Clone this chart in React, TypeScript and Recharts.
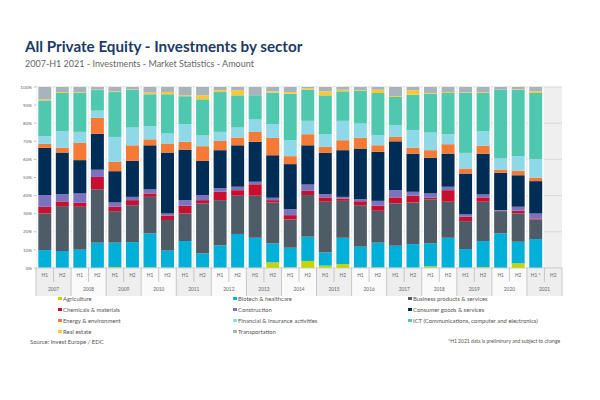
import React from "react";
import { BarChart, Bar, XAxis, YAxis, CartesianGrid } from "recharts";

// Half-year periods, H1 2007 .. H2 2021 (H2 2021 has no data yet)
const years = [
  "2007", "2008", "2009", "2010", "2011", "2012", "2013", "2014",
  "2015", "2016", "2017", "2018", "2019", "2020", "2021",
];
const halves = ["H1", "H2"];

// Share of investment amount by sector, %
const agriculture = [0.2, 0.1, 0.1, 0.1, 0.5, 0.2, 0.3, 0.2, 0.2, 0.3, 0.2, 0.2, 0.2, 3.1, 0.3, 3.9, 1.3, 2.2, 0.2, 0.3, 0.2, 0.2, 0.9, 0.2, 0.2, 0.5, 0.1, 2.6, 0.1, null];
const biotech = [9.7, 9.3, 10.0, 13.9, 13.5, 14.1, 18.8, 9.4, 14.7, 7.8, 12.3, 18.6, 16.5, 10.5, 10.9, 13.4, 7.3, 14.5, 11.6, 13.7, 12.1, 13.0, 12.7, 16.5, 10.3, 14.4, 19.0, 11.9, 15.9, null];
const business = [20.2, 24.8, 23.7, 29.6, 17.4, 20.4, 20.2, 16.9, 15.2, 27.6, 25.0, 21.1, 23.2, 22.6, 15.6, 23.0, 28.0, 20.4, 22.9, 17.6, 23.4, 23.0, 24.3, 19.9, 15.4, 21.7, 12.3, 15.6, 10.8, null];
const chemicals = [3.7, 2.6, 2.2, 6.8, 2.4, 2.8, 1.9, 2.5, 4.3, 1.8, 4.6, 3.1, 6.4, 1.3, 2.4, 2.3, 2.4, 1.3, 2.2, 2.8, 3.3, 3.7, 0.9, 6.4, 2.4, 2.4, 0.2, 1.5, 0.6, null];
const construction = [6.5, 4.0, 5.2, 4.0, 2.4, 1.8, 2.2, 1.1, 3.1, 2.8, 2.0, 1.9, 1.3, 1.3, 3.3, 3.5, 1.8, 0.9, 1.2, 2.7, 4.0, 2.2, 2.4, 1.9, 1.3, 1.6, 0.4, 2.2, 2.7, null];
const consumer = [26.1, 23.0, 18.4, 19.9, 17.3, 19.9, 24.4, 33.7, 27.9, 18.9, 21.0, 22.9, 22.1, 23.5, 24.9, 21.7, 22.8, 25.8, 27.9, 27.1, 27.0, 21.1, 19.8, 18.3, 22.6, 22.6, 20.6, 17.5, 17.9, null];
const energy = [2.2, 2.7, 9.5, 8.8, 5.1, 8.6, 3.3, 5.0, 4.3, 8.1, 5.1, 4.3, 5.5, 9.6, 4.4, 6.1, 3.3, 5.5, 5.9, 3.6, 2.4, 3.2, 4.1, 5.2, 2.8, 4.3, 1.8, 2.4, 2.0, null];
const financial = [4.2, 9.2, 6.1, 4.0, 13.8, 9.8, 7.2, 5.5, 9.7, 5.9, 5.0, 5.5, 6.8, 7.5, 8.8, 7.4, 7.0, 10.7, 7.9, 5.5, 6.5, 9.7, 9.7, 5.5, 8.6, 8.2, 6.1, 8.1, 9.9, null];
const ict = [19.8, 21.0, 21.5, 11.4, 24.8, 20.9, 17.7, 21.7, 15.5, 20.0, 22.0, 17.8, 13.4, 17.5, 25.7, 17.2, 21.5, 16.3, 18.0, 23.4, 15.6, 19.7, 21.5, 22.8, 33.3, 21.0, 38.0, 36.7, 36.8, null];
const realEstate = [0.6, 0.5, 0.4, 0.2, 0.3, 0.2, 0.9, 1.2, 0.5, 2.2, 1.0, 2.8, 0.0, 0.7, 0.9, 0.8, 2.2, 0.9, 0.4, 1.8, 0.5, 2.4, 0.4, 0.5, 0.2, 0.4, 0.0, 0.2, 0.9, null];
const transportation = [6.8, 2.8, 2.9, 1.5, 2.5, 1.3, 3.1, 2.8, 4.6, 4.6, 1.8, 1.8, 4.6, 2.4, 2.8, 0.7, 2.4, 1.5, 1.8, 1.5, 5.0, 1.8, 3.3, 2.8, 2.9, 2.9, 1.5, 1.3, 2.4, null];

const yTicks = [0, 0.1, 0.2, 0.3, 0.4, 0.5, 0.6, 0.7, 0.8, 0.9, 1];

const series = [
  { key: "agriculture", name: "Agriculture", color: "#c4d600", values: agriculture },
  { key: "biotech", name: "Biotech & healthcare", color: "#00b0d9", values: biotech },
  { key: "business", name: "Business products & services", color: "#4d5c67", values: business },
  { key: "chemicals", name: "Chemicals & materials", color: "#c8102e", values: chemicals },
  { key: "construction", name: "Construction", color: "#7b72c0", values: construction },
  { key: "consumer", name: "Consumer goods & services", color: "#002d56", values: consumer },
  { key: "energy", name: "Energy & environment", color: "#f47a36", values: energy },
  { key: "financial", name: "Financial & insurance activities", color: "#8ed8e8", values: financial },
  { key: "ict", name: "ICT (Communications, computer and electronics)", color: "#4ec9b0", values: ict },
  { key: "realEstate", name: "Real estate", color: "#fdc82f", values: realEstate },
  { key: "transportation", name: "Transportation", color: "#a9b3bb", values: transportation },
];

const data = years.flatMap((year, yi) =>
  halves.map((half, hi) => {
    const i = yi * 2 + hi;
    const row: Record<string, any> = {
      period: `${half} ${year}`,
      year,
      half: year === "2021" && half === "H1" ? "H1 *" : half,
    };
    series.forEach((s) => (row[s.key] = s.values[i]));
    return row;
  })
);

const FONT = "Lato, 'Open Sans', sans-serif";
const PLOT_LEFT = 36;
const PLOT_RIGHT = 38;
const BAND = (600 - PLOT_LEFT - PLOT_RIGHT) / data.length;

// two-row axis: half-year cell + year cell spanning both halves
function PeriodTick(props: any) {
  const { x, y, index } = props;
  const row = data[index];
  if (!row) return null;
  const half = BAND / 2;
  const shaded = years.indexOf(row.year) % 2 === 0;
  const bg = shaded ? "#eeeeee" : "#fafafa";
  const isFirst = index % 2 === 0;
  const last = index === data.length - 1;
  return (
    <g>
      <rect x={x - half} y={y} width={BAND} height={14} fill={bg} />
      {isFirst && (
        <rect x={x - half} y={y + 14} width={BAND * 2} height={14} fill={bg} />
      )}
      <line x1={x - half} x2={x + half} y1={y} y2={y} stroke="#c8c8c8" strokeWidth={0.8} />
      <line
        x1={x - half}
        x2={x - half}
        y1={y}
        y2={isFirst ? y + 28 : y + 14}
        stroke="#bdbdbd"
        strokeWidth={0.8}
      />
      {last && (
        <line x1={x + half} x2={x + half} y1={y} y2={y + 28} stroke="#bdbdbd" strokeWidth={0.8} />
      )}
      <text x={x} y={y + 9} textAnchor="middle" fontSize={4.8} fill="#666" fontFamily={FONT}>
        {row.half}
      </text>
      {isFirst && (
        <text x={x + half} y={y + 23} textAnchor="middle" fontSize={4.8} fill="#666" fontFamily={FONT}>
          {row.year}
        </text>
      )}
    </g>
  );
}

// white strip around each stacked column, none for the empty slot
function ColumnBackground(props: any) {
  const { x, y, width, height, payload } = props;
  if (!payload || payload.biotech == null) return <g />;
  return <rect x={x - 1.5} y={y} width={width + 3} height={height} fill="#ffffff" />;
}

export default function App() {
  return (
    <div
      style={{
        position: "absolute",
        left: 0,
        top: 0,
        width: 600,
        height: 400,
        background: "#fff",
        fontFamily: FONT,
      }}
    >
      <div
        style={{
          position: "absolute",
          left: 25,
          top: 39,
          fontSize: 15.2,
          lineHeight: "15px",
          fontWeight: 700,
          color: "#1c3a66",
          whiteSpace: "nowrap",
        }}
      >
        All Private Equity - Investments by sector
      </div>
      <div
        style={{
          position: "absolute",
          left: 25,
          top: 59,
          fontSize: 9,
          lineHeight: "9px",
          color: "#666",
          whiteSpace: "nowrap",
        }}
      >
        2007-H1 2021 - Investments - Market Statistics - Amount
      </div>

      <div style={{ position: "absolute", left: 0, top: 0 }}>
        <BarChart
          width={600}
          height={400}
          data={data}
          stackOffset="expand"
          barCategoryGap="13%"
          margin={{ top: 87, right: PLOT_RIGHT, bottom: 104, left: 0 }}
        >
          <CartesianGrid vertical={false} stroke="#d8d8d8" fill="#efefef" />
          <XAxis
            dataKey="period"
            interval={0}
            height={28}
            tickSize={0}
            tickMargin={0}
            axisLine={false}
            tickLine={false}
            tick={<PeriodTick />}
          />
          <YAxis
            width={PLOT_LEFT}
            domain={[0, 1]}
            ticks={yTicks}
            tickFormatter={(v: number) => `${Math.round(v * 100)}%`}
            tick={{ fontSize: 4.6, fill: "#666", fontFamily: FONT }}
            tickSize={2}
            tickMargin={2}
            tickLine={{ stroke: "#bbb" }}
            axisLine={false}
          />
          {series.map((s, i) => (
            <Bar
              key={s.key}
              dataKey={s.key}
              name={s.name}
              stackId="sector"
              fill={s.color}
              isAnimationActive={false}
              background={i === 0 ? ColumnBackground : undefined}
            />
          ))}
        </BarChart>
      </div>

      <div
        style={{
          position: "absolute",
          left: 58,
          top: 293,
          display: "grid",
          gridTemplateColumns: "175px 175px 175px",
          gridAutoRows: "11px",
          fontSize: 5.9,
          color: "#555",
        }}
      >
        {series.map((s) => (
          <div key={s.key} style={{ display: "flex", alignItems: "center", whiteSpace: "nowrap" }}>
            <span
              style={{
                display: "inline-block",
                width: 3.5,
                height: 3.5,
                background: s.color,
                marginRight: 1.5,
              }}
            />
            {s.name}
          </div>
        ))}
      </div>

      <div style={{ position: "absolute", left: 30, top: 338, fontSize: 5.9, color: "#555" }}>
        Source: Invest Europe / EDC
      </div>
      <div
        style={{
          position: "absolute",
          left: 448,
          top: 338,
          fontSize: 5,
          color: "#555",
          whiteSpace: "nowrap",
        }}
      >
        *H1 2021 data is preliminary and subject to change
      </div>
    </div>
  );
}
